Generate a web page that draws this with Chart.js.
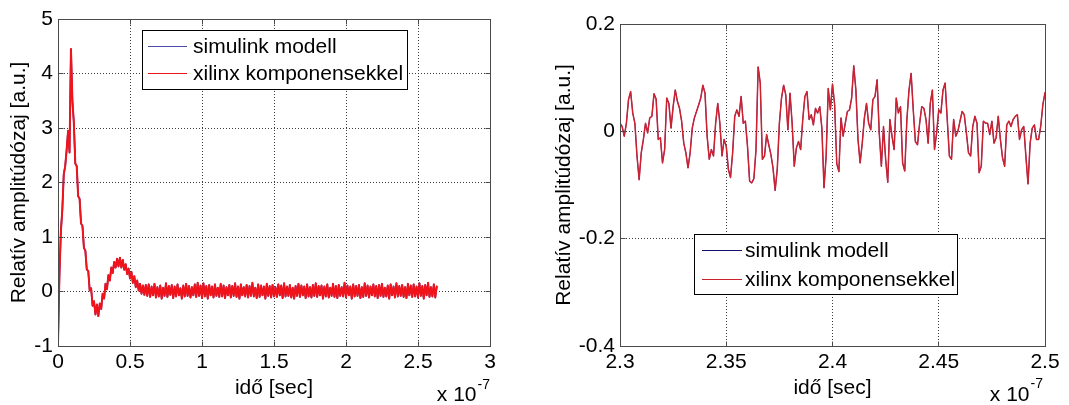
<!DOCTYPE html>
<html>
<head>
<meta charset="utf-8">
<title>Relatív amplitúdózaj</title>
<script src="https://cdn.jsdelivr.net/npm/chart.js@4/dist/chart.umd.min.js"></script>
<style>
  html, body { margin: 0; padding: 0; background: #fff; }
  #wrap { position: relative; width: 1069px; height: 405px; overflow: hidden; background: #fff; }
  #wrap canvas { position: absolute; top: 0; }
  #overview { left: 0; }
  #detail { left: 530px; }
</style>
</head>
<body>
<div id="wrap">
  <canvas id="overview" width="530" height="405"></canvas>
  <canvas id="detail" width="539" height="405"></canvas>
</div>
<script>
// ---- series names and axis texts ----
const seriesNames = ['simulink modell', 'xilinx komponensekkel'];
const xTitle = 'idő [sec]';
const yTitle = 'Relatív amplitúdózaj [a.u.]';
const timeMantissa = 'x 10';
const timeExponent = '-7';

// ---- time axis (in units of 1e-7 s) ----
// overview trace: 1 ns sampling from t = 0
const overviewStart = 0;
const overviewStep = 0.01;
// detail trace: 0.1 ns sampling from t = 2.3e-7 s
const detailStart = 2.3;
const detailStep = 0.001;

// ---- tick values and labels ----
const overviewXTicks = [0, 0.5, 1, 1.5, 2, 2.5, 3];
const overviewXLabels = ['0', '0.5', '1', '1.5', '2', '2.5', '3'];
const overviewYTicks = [-1, 0, 1, 2, 3, 4, 5];
const overviewYLabels = ['-1', '0', '1', '2', '3', '4', '5'];
const detailXTicks = [2.3, 2.35, 2.4, 2.45, 2.5];
const detailXLabels = ['2.3', '2.35', '2.4', '2.45', '2.5'];
const detailYTicks = [-0.4, -0.2, 0, 0.2];
const detailYLabels = ['-0.4', '-0.2', '0', '0.2'];

// ---- xilinx output, full run (0 .. 2.63e-7 s) ----
const xilinxOverview = [
  -0.95, 0.3, 1.1, 1.5, 2.15, 2.3, 2.6, 2.95, 2.55, 4.45,
  3.5, 3.1, 2.35, 2.3, 1.75, 1.7, 1.25, 1.2, 0.8, 0.75,
  0.4, 0.38, 0.02, 0.06, -0.26, -0.18, -0.42, -0.24, -0.45, -0.22,
  -0.32, -0.04, -0.13, 0.14, 0.04, 0.3, 0.2, 0.44, 0.34, 0.54,
  0.44, 0.6, 0.46, 0.62, 0.44, 0.58, 0.4, 0.5, 0.32, 0.42,
  0.24, 0.36, 0.16, 0.28, 0.08, 0.2, 0.02, 0.14, -0.04, 0.11,
  -0.06,
  0.12, -0.08, 0.13, -0.1, 0.09, -0.07, 0.14, -0.11, 0.08, -0.09,
  0.11, -0.13, 0.07, -0.08, 0.15, -0.1, 0.1, -0.06, 0.12, -0.12,
  0.09, -0.09, 0.13, -0.07, 0.06, -0.13, 0.11, -0.09, 0.14, -0.08,
  0.1, -0.11, 0.08, -0.07, 0.13, -0.1, 0.16, -0.08, 0.11, -0.12,
  0.15, -0.09, 0.1, -0.13, 0.12, -0.07, 0.09, -0.11, 0.13, -0.08,
  0.07, -0.1, 0.14, -0.09, 0.11, -0.12, 0.08, -0.07, 0.12, -0.11,
  0.1, -0.08, 0.15, -0.1, 0.09, -0.13, 0.13, -0.07, 0.08, -0.09,
  0.12, -0.11, 0.1, -0.08, 0.16, -0.09, 0.07, -0.12, 0.13, -0.1,
  0.11, -0.07, 0.09, -0.13, 0.14, -0.08, 0.1, -0.11, 0.12, -0.09,
  0.08, -0.1, 0.13, -0.07, 0.11, -0.12, 0.15, -0.09, 0.09, -0.08,
  0.12, -0.11, 0.07, -0.13, 0.1, -0.08, 0.14, -0.1, 0.11, -0.07,
  0.09, -0.12, 0.13, -0.09, 0.08, -0.11, 0.12, -0.08, 0.15, -0.1,
  0.1, -0.07, 0.11, -0.13, 0.09, -0.09, 0.13, -0.11, 0.07, -0.08,
  0.14, -0.1, 0.1, -0.12, 0.12, -0.08, 0.08, -0.09, 0.16, -0.11,
  0.11, -0.07, 0.09, -0.13, 0.13, -0.09, 0.1, -0.08, 0.12, -0.12,
  0.08, -0.1, 0.15, -0.08, 0.11, -0.11, 0.09, -0.07, 0.13, -0.09,
  0.1, -0.12, 0.12, -0.08, 0.14, -0.1, 0.07, -0.09, 0.11, -0.13,
  0.13, -0.07, 0.09, -0.11, 0.15, -0.09, 0.1, -0.08, 0.12, -0.1,
  0.08, -0.12, 0.14, -0.07, 0.11, -0.1, 0.13, -0.09, 0.09, -0.11,
  0.15, -0.08, 0.1, -0.13, 0.12, -0.07, 0.16, -0.1, 0.08, -0.09,
  0.13, -0.11, 0.09
];

// ---- xilinx output, detail window (2.3e-7 .. 2.5e-7 s) ----
const xilinxDetail = [
  0.015, 0.009, -0.009, 0.015, 0.059, 0.074, 0.034, 0.015, -0.046, -0.09,
  -0.04, -0.015, 0.015, -0.003, 0.025, 0.028, 0.07, 0.06, -0.015, -0.012,
  -0.059, -0.034, 0.062, 0.052, 0.006, 0.046, 0.077, 0.056, 0.043, 0.019,
  -0.022, -0.04, -0.068, -0.04, 0.006, 0.025, 0.037, 0.049, 0.062, 0.086,
  0.071, -0.009, -0.052, -0.034, -0.046, 0.015, 0.052, 0.015, -0.046,
  -0.015, -0.028, -0.071, -0.086, -0.04, 0.028, 0.04, 0.028, 0.065,
  0.015, 0.019, -0.028, -0.093, -0.096, -0.088, -0.034, 0.12, 0.09, -0.052,
  -0.046, -0.006, -0.025, -0.043, -0.068, -0.11, -0.071, 0.015, 0.062, 0.086,
  0.068, 0.003, 0.071, 0.015, -0.065, -0.031, -0.019, -0.034, 0.022, 0.065,
  0.074, 0.022, 0.031, 0.012, 0.043, 0.034, 0.046, 0.006, -0.105, -0.046,
  0.08, 0.04, 0.088, 0.05, -0.06, -0.075, 0.025, -0.009, 0.015, 0.037,
  0.04, 0.062, 0.122, 0.077, -0.015, -0.059, -0.022, 0.025, 0.052, 0.015,
  0.003, 0.059, 0.065, 0.096, -0.003, -0.065, 0.009, -0.052, -0.095, 0.022,
  -0.009, -0.034, 0.062, 0.034, 0.046, -0.059, -0.074, 0.022, 0.077, 0.108,
  0.04, -0.019, -0.025, 0.015, 0.046, 0.043, 0.022, -0.022, 0.052, 0.077,
  -0.034, -0.003, 0.04, 0.034, 0.077, 0.09, 0.022, -0.046, -0.052,
  0.022, -0.009, 0, 0.019, 0.037, 0.031, -0.003, -0.04, -0.046, 0.009,
  0.028, 0.015, -0.077, -0.065, 0.019, 0.015, 0.015, -0.006, 0.019, -0.022,
  -0.012, 0.028, -0.015, -0.049, -0.065, 0.012, 0.019, 0.009, 0.022, 0.028,
  0.031, -0.015, 0.003, 0.009, -0.046, -0.098, -0.022, 0.006, 0.012, -0.015,
  -0.015, 0.01, 0.05, 0.072
];

// the simulink model output coincides with the hardware output
const simulinkOverview = xilinxOverview;
const simulinkDetail = xilinxDetail;

// ---- drawing ----
const FONT = "'Liberation Sans', Arial, Helvetica, sans-serif";
const FONT_SIZE = 21;
const GRID_COLOR = '#3a3a3a';
const FRAME_COLOR = '#4a4a4a';

function toPoints(start, step, values) {
  return values.map((v, i) => ({ x: Math.round((start + i * step) * 100000) / 100000, y: v }));
}

const crisp = p => Math.round(p - 0.5) + 0.5;

// frame, inward tick marks, legend box and the axis multiplier
const decorPlugin = {
  id: 'decor',
  beforeDraw(chart) {
    const { ctx, width, height } = chart;
    ctx.save();
    ctx.fillStyle = '#fff';
    ctx.fillRect(0, 0, width, height);
    ctx.restore();
  },
  afterDraw(chart, args, opts) {
    const { ctx, chartArea: a, scales } = chart;
    const L = crisp(a.left), R = crisp(a.right), T = crisp(a.top), B = crisp(a.bottom);
    ctx.save();
    const seg = (x0, y0, x1, y1) => { ctx.beginPath(); ctx.moveTo(x0, y0); ctx.lineTo(x1, y1); ctx.stroke(); };

    // axes box
    ctx.strokeStyle = FRAME_COLOR;
    ctx.lineWidth = 1;
    ctx.setLineDash([]);
    ctx.strokeRect(L, T, R - L, B - T);

    // short inward ticks on all four sides
    const tl = 5;
    scales.x.ticks.forEach(t => {
      const px = crisp(scales.x.getPixelForValue(t.value));
      seg(px, B, px, B - tl);
      seg(px, T, px, T + tl);
    });
    scales.y.ticks.forEach(t => {
      const py = crisp(scales.y.getPixelForValue(t.value));
      seg(L, py, L + tl, py);
      seg(R, py, R - tl, py);
    });

    // legend
    const lg = opts.legend;
    ctx.fillStyle = '#fff';
    ctx.fillRect(lg.x, lg.y, lg.w, lg.h);
    ctx.strokeStyle = '#000';
    ctx.strokeRect(lg.x + 0.5, lg.y + 0.5, lg.w, lg.h);
    ctx.font = FONT_SIZE + 'px ' + FONT;
    ctx.textAlign = 'left';
    ctx.textBaseline = 'alphabetic';
    chart.data.datasets.forEach((ds, i) => {
      const ry = lg.rows[i];
      ctx.strokeStyle = lg.colors[i];
      ctx.lineWidth = 1.2;
      seg(lg.lineX0, ry + 0.5, lg.lineX1, ry + 0.5);
      ctx.fillStyle = '#000';
      ctx.fillText(ds.label, lg.textX, ry + lg.baseOffset);
    });

    // "x 10^-7" multiplier under the right end of the time axis
    const ex = opts.exponent;
    ctx.fillStyle = '#000';
    ctx.textAlign = 'right';
    ctx.font = ex.supSize + 'px ' + FONT;
    const supW = ctx.measureText(timeExponent).width;
    const right = a.right + ex.dx;
    ctx.fillText(timeExponent, right, ex.supBase);
    ctx.font = FONT_SIZE + 'px ' + FONT;
    ctx.fillText(timeMantissa, right - supW - 1, ex.base);
    ctx.restore();
  }
};

function buildChart(id, o) {
  const font = { family: FONT, size: FONT_SIZE };
  return new Chart(document.getElementById(id), {
    type: 'line',
    data: {
      datasets: [
        { label: seriesNames[0], data: toPoints(o.start, o.step, o.simulink),
          borderColor: o.colors[0], borderWidth: o.lineWidths[0], order: 1 },
        { label: seriesNames[1], data: toPoints(o.start, o.step, o.xilinx),
          borderColor: o.colors[1], borderWidth: o.lineWidths[1], order: 0 }
      ]
    },
    options: {
      responsive: false,
      animation: false,
      devicePixelRatio: 1,
      events: [],
      elements: {
        point: { radius: 0 },
        line: { tension: 0, fill: false, borderJoinStyle: 'round', borderCapStyle: 'round' }
      },
      layout: { padding: o.padding },
      plugins: {
        legend: { display: false },
        tooltip: { enabled: false },
        decor: { legend: o.legend, exponent: o.exponent }
      },
      scales: {
        x: {
          type: 'linear',
          min: o.xTicks[0],
          max: o.xTicks[o.xTicks.length - 1],
          afterBuildTicks: s => { s.ticks = o.xTicks.map(v => ({ value: v })); },
          afterFit: s => { s.height = o.xAxisHeight; },
          ticks: {
            color: '#000', font, padding: o.xTickPad, maxRotation: 0, autoSkip: false,
            callback: (v, i) => o.xLabels[i]
          },
          grid: { color: GRID_COLOR, lineWidth: 1, drawTicks: false, borderDash: [1, 2] },
          border: { display: false, dash: [1, 2] },
          title: { display: true, text: xTitle, color: '#000', font, padding: { top: 0, bottom: o.xTitlePad } }
        },
        y: {
          type: 'linear',
          min: o.yTicks[0],
          max: o.yTicks[o.yTicks.length - 1],
          afterBuildTicks: s => { s.ticks = o.yTicks.map(v => ({ value: v })); },
          afterFit: s => { s.width = o.yAxisWidth; },
          ticks: {
            color: '#000', font, padding: o.yTickPad, autoSkip: false,
            callback: (v, i) => o.yLabels[i]
          },
          grid: { color: GRID_COLOR, lineWidth: 1, drawTicks: false, borderDash: [1, 2] },
          border: { display: false, dash: [1, 2] },
          title: { display: true, text: yTitle, color: '#000', font, padding: { top: o.yTitlePad, bottom: 0 } }
        }
      }
    },
    plugins: [decorPlugin]
  });
}

buildChart('overview', {
  start: overviewStart, step: overviewStep,
  simulink: simulinkOverview, xilinx: xilinxOverview,
  colors: ['#1f1fb0', '#f0141a'], lineWidths: [1.6, 2],
  xTicks: overviewXTicks, xLabels: overviewXLabels,
  yTicks: overviewYTicks, yLabels: overviewYLabels,
  padding: { left: 0, top: 19, right: 40, bottom: 0 },
  xAxisHeight: 59, yAxisWidth: 58,
  xTickPad: 4, yTickPad: 5, xTitlePad: 4, yTitlePad: 7,
  legend: { x: 142, y: 30, w: 265, h: 59, rows: [46, 73], lineX0: 148, lineX1: 187, textX: 193,
            baseOffset: 7, colors: ['#4a4aa8', '#f0141a'] },
  exponent: { dx: 0, base: 401, supBase: 389, supSize: 14 }
});

buildChart('detail', {
  start: detailStart, step: detailStep,
  simulink: simulinkDetail, xilinx: xilinxDetail,
  colors: ['#1f1fb0', '#cc2230'], lineWidths: [0.9, 1.5],
  xTicks: detailXTicks, xLabels: detailXLabels,
  yTicks: detailYTicks, yLabels: detailYLabels,
  padding: { left: 0, top: 24, right: 24, bottom: 0 },
  xAxisHeight: 59, yAxisWidth: 90,
  xTickPad: 4, yTickPad: 5, xTitlePad: 4, yTitlePad: 22,
  legend: { x: 164, y: 234, w: 263, h: 60, rows: [250, 279], lineX0: 172, lineX1: 212, textX: 215,
            baseOffset: 7, colors: ['#12126e', '#cc2230'] },
  exponent: { dx: -2, base: 401, supBase: 388, supSize: 14 }
});
</script>
</body>
</html>
